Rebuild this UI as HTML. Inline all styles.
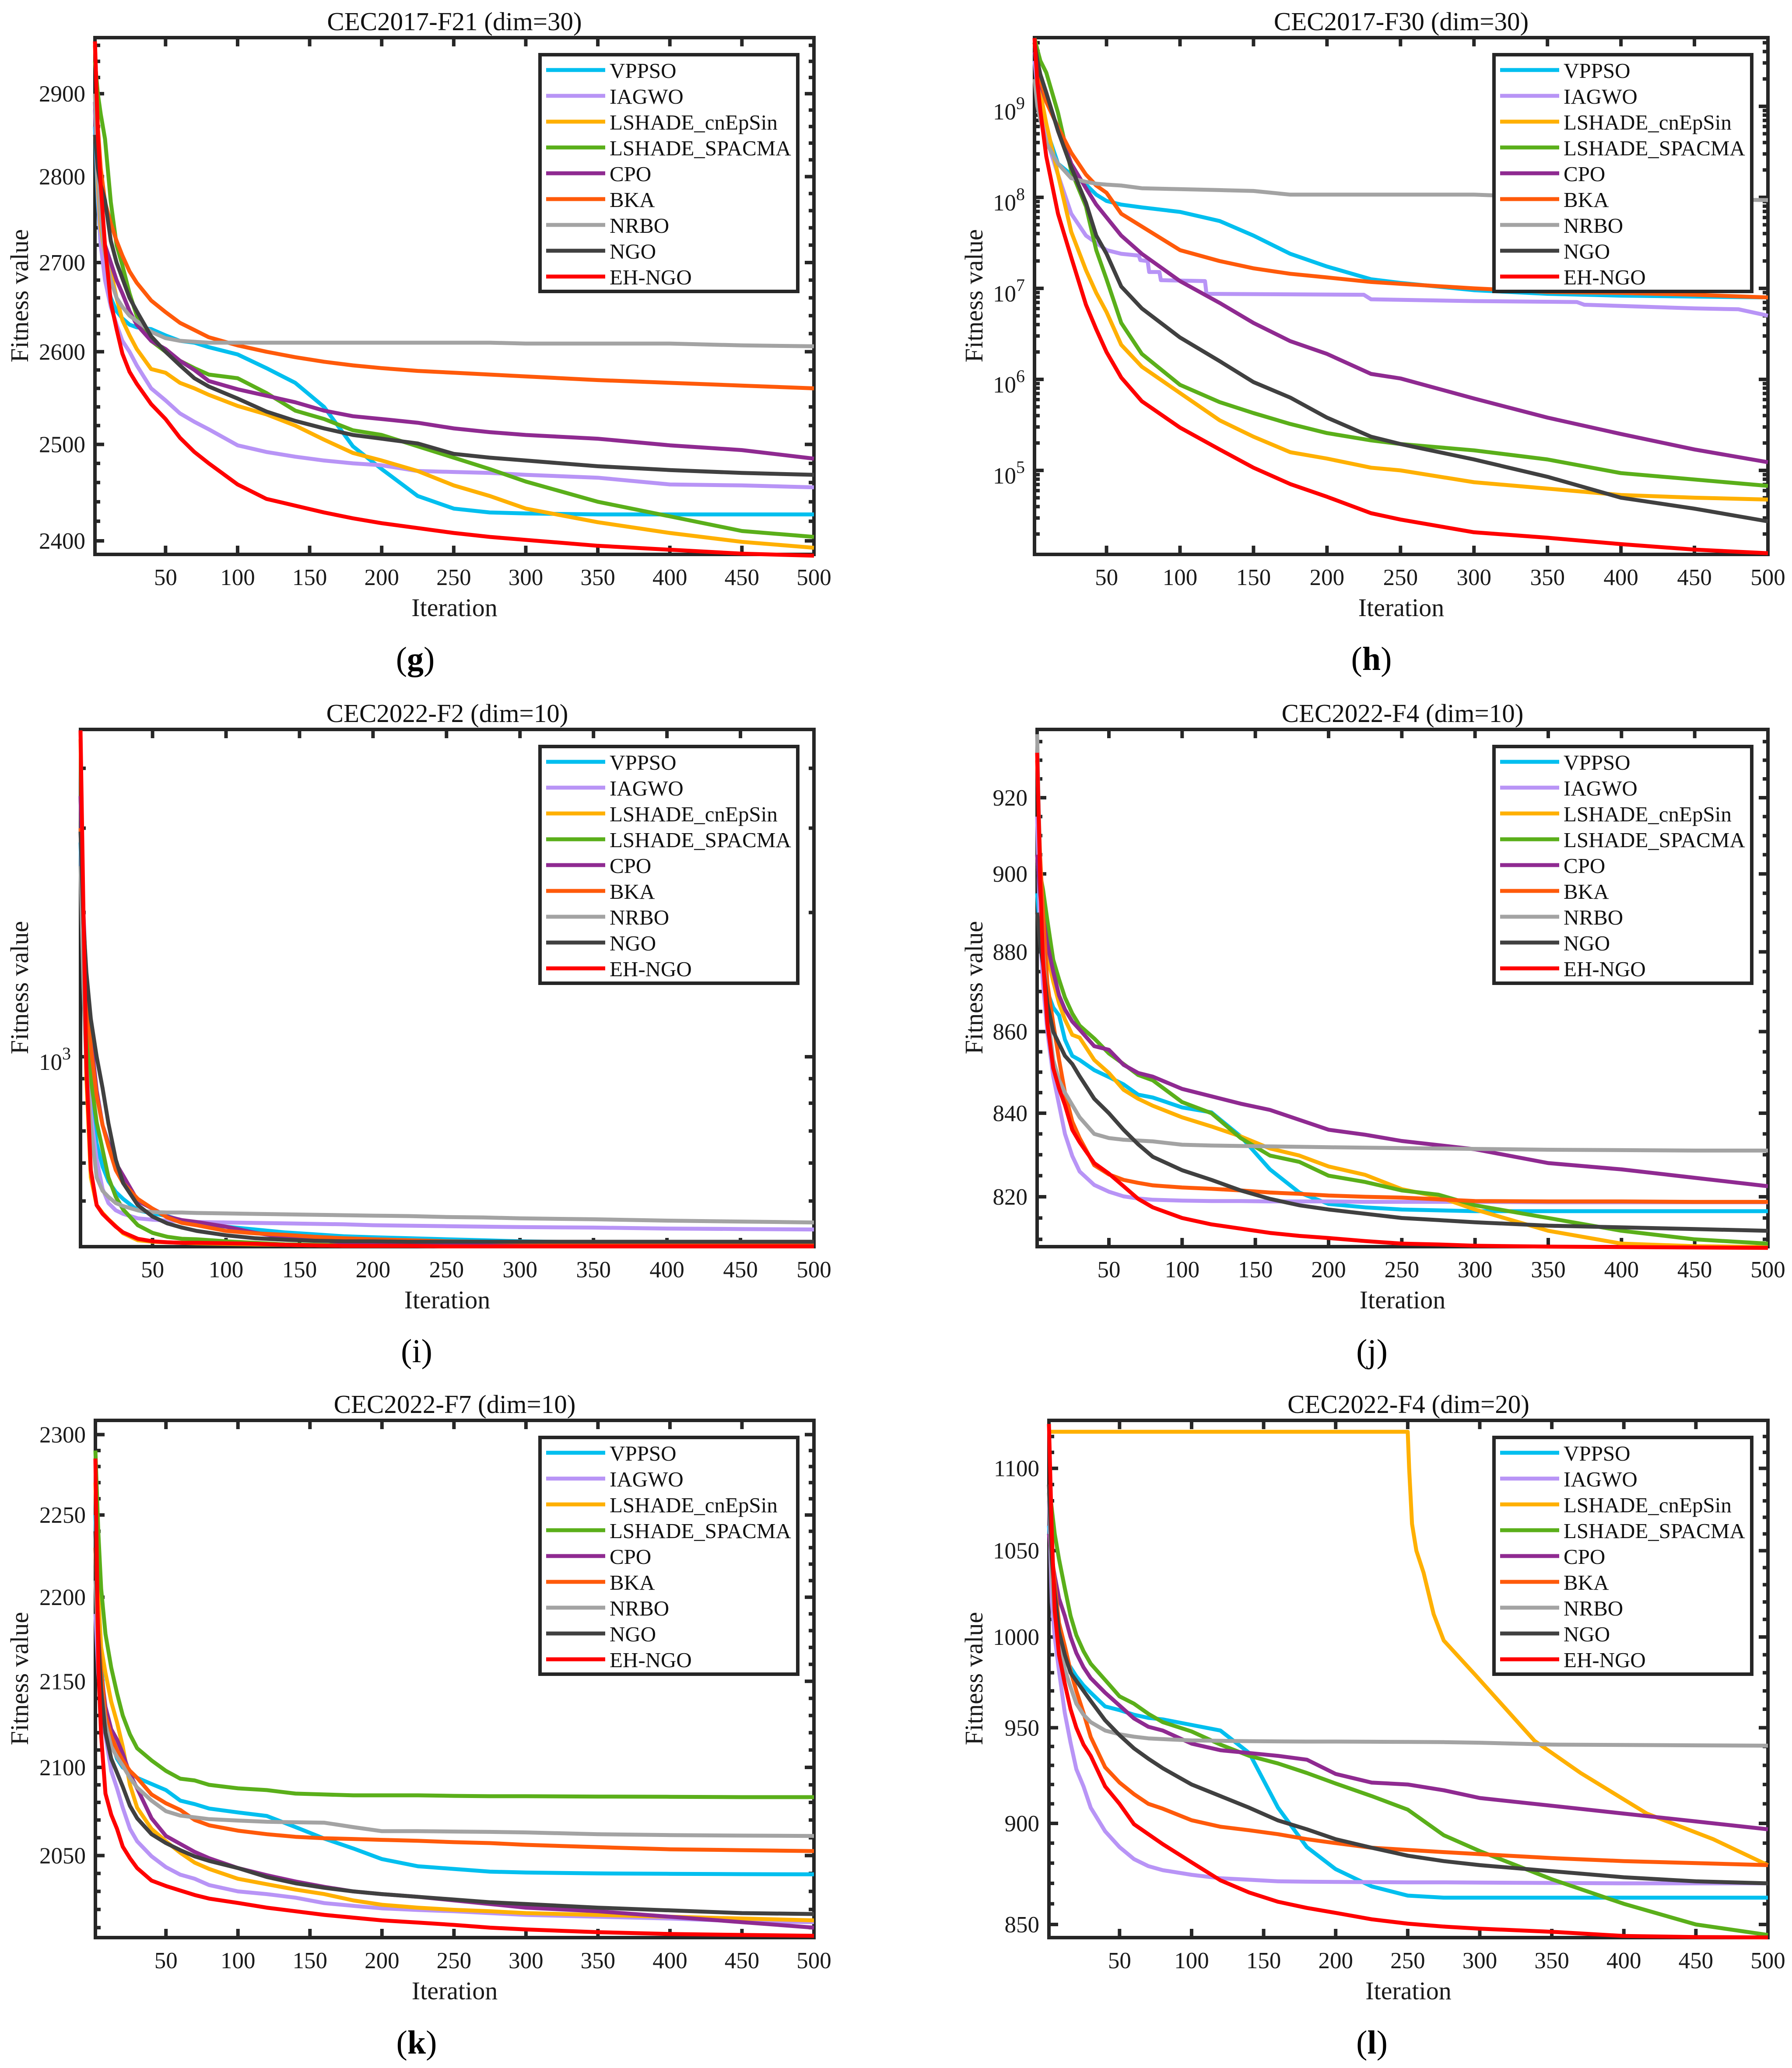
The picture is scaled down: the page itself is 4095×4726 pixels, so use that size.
<!DOCTYPE html>
<html lang="en">
<head>
<meta charset="utf-8">
<title>Convergence curves (g)-(l)</title>
<style>
html,body{margin:0;padding:0;background:#fff;}
svg{display:block;font-family:"Liberation Serif",serif;}
</style>
</head>
<body>
<svg id="figure" xmlns="http://www.w3.org/2000/svg" width="4095" height="4726" viewBox="0 0 4095 4726">
<rect x="0" y="0" width="4095" height="4726" fill="#ffffff"/>
</svg>
<script>
const algorithms = ['VPPSO','IAGWO','LSHADE_cnEpSin','LSHADE_SPACMA','CPO','BKA','NRBO','NGO','EH-NGO'];
const xTickValues = [50,100,150,200,250,300,350,400,450,500];
const iterations = [1,3,5,8,12,16,20,25,30,40,50,60,70,80,100,120,140,160,180,200,225,250,275,300,350,400,450,500];

// (g) CEC2017-F21
const g_yTicks = [2400,2500,2600,2700,2800,2900];
const g_VPPSO = [2860,2770,2720,2685,2660,2645,2637,2630,2627,2625,2618,2612,2610,2605,2597,2582,2566,2540,2498,2474,2446,2433,2429,2428,2427,2427,2427,2427];
const g_IAGWO = [2880,2780,2720,2680,2650,2630,2612,2600,2585,2560,2547,2533,2524,2516,2499,2492,2487,2483,2480,2478,2472,2471,2470,2468,2465,2458,2457,2455];
const g_cnEpSin = [2900,2790,2740,2710,2690,2660,2635,2618,2603,2581,2577,2566,2560,2553,2541,2532,2520,2505,2491,2483,2472,2457,2446,2433,2419,2408,2399,2393];
const g_SPACMA = [2940,2900,2875,2845,2770,2720,2697,2665,2640,2612,2600,2590,2582,2575,2571,2555,2536,2527,2515,2510,2498,2486,2474,2461,2440,2425,2410,2404];
const g_CPO = [2890,2800,2760,2720,2700,2680,2665,2645,2630,2612,2603,2590,2580,2568,2559,2552,2545,2536,2530,2527,2523,2517,2513,2510,2506,2499,2494,2485];
const g_BKA = [2960,2860,2810,2770,2745,2725,2708,2690,2677,2657,2644,2632,2624,2616,2607,2600,2594,2589,2585,2582,2579,2577,2575,2573,2569,2566,2563,2560];
const g_NRBO = [2900,2800,2750,2710,2680,2660,2650,2640,2634,2622,2615,2612,2611,2610,2610,2610,2610,2610,2610,2610,2610,2610,2610,2609,2609,2609,2607,2606];
const g_NGO = [2850,2810,2790,2772,2725,2700,2682,2660,2645,2617,2600,2585,2571,2562,2549,2535,2525,2517,2510,2506,2501,2490,2486,2483,2477,2473,2470,2468];
const g_EHNGO = [2965,2850,2790,2719,2655,2625,2598,2578,2565,2543,2527,2507,2492,2480,2458,2443,2436,2429,2423,2418,2413,2408,2404,2401,2395,2391,2387,2385];

// (h) CEC2017-F30, values stored as log10(fitness)
const h_iterations = [1,3,5,9,17,26,36,43,50,60,74,100,127,150,175,200,230,250,300,350,400,450,500];
const h_iterationsIAGWO = [1,3,5,9,17,26,36,50,60,72,73,78,79,86,87,117,118,225,230,300,370,375,450,480,500];
const h_yExponents = [5,6,7,8,9];
const h_VPPSO = [9.5,9.2,9.05,8.75,8.37,8.25,8.14,8.03,7.96,7.92,7.89,7.84,7.74,7.58,7.38,7.24,7.10,7.06,6.98,6.94,6.92,6.91,6.90];
const h_IAGWO = [9.5,9.2,8.95,8.65,8.25,7.82,7.58,7.42,7.38,7.36,7.31,7.30,7.18,7.18,7.09,7.08,6.94,6.93,6.88,6.86,6.85,6.82,6.78,6.77,6.70];
const h_cnEpSin = [9.7,9.4,9.15,8.81,8.25,7.62,7.2,6.95,6.74,6.38,6.14,5.85,5.55,5.37,5.2,5.13,5.03,5.0,4.87,4.80,4.73,4.70,4.68];
const h_SPACMA = [9.75,9.62,9.5,9.37,8.93,8.29,7.9,7.42,7.10,6.62,6.28,5.94,5.75,5.63,5.51,5.41,5.33,5.29,5.22,5.12,4.97,4.90,4.83];
const h_CPO = [9.6,9.4,9.25,9.05,8.77,8.37,8.10,7.92,7.78,7.58,7.38,7.08,6.84,6.62,6.42,6.28,6.06,6.01,5.79,5.58,5.40,5.23,5.09];
const h_BKA = [9.7,9.45,9.3,9.05,8.77,8.49,8.25,8.13,8.05,7.82,7.68,7.42,7.30,7.22,7.16,7.12,7.07,7.05,7.0,6.96,6.95,6.93,6.90];
const h_NRBO = [9.3,9.0,8.85,8.6,8.37,8.21,8.17,8.15,8.14,8.13,8.10,8.09,8.08,8.07,8.03,8.03,8.03,8.03,8.03,8.0,7.99,7.98,7.97];
const h_NGO = [9.7,9.5,9.35,9.15,8.73,8.33,7.94,7.58,7.38,7.02,6.78,6.46,6.2,5.97,5.8,5.58,5.37,5.29,5.12,4.93,4.70,4.58,4.44];
const h_EHNGO = [9.75,9.25,8.95,8.45,7.82,7.34,6.82,6.55,6.30,6.02,5.76,5.47,5.23,5.03,4.85,4.71,4.53,4.46,4.32,4.26,4.19,4.13,4.09];

// (i) CEC2022-F2 dim 10
const i_yMinorTicks = [500,600,700,800,900,2000,3000,4000];
const i_VPPSO = [2800,1500,1050,800,660,590,550,522,505,478,471,465,455,449,442,436,430,426,422,420,418,416,414,412,410,408,407,406];
const i_IAGWO = [3000,1500,1000,760,610,530,495,478,470,460,457,455,454,452,451,450,449,448,447,445,444,443,442,441,440,438,437,436];
const i_cnEpSin = [4600,1800,900,560,490,472,458,443,428,414,411,410,409,408,407,406,405,404,403,403,403,402,402,402,402,402,402,402];
const i_SPACMA = [3500,1900,1300,900,730,640,560,510,480,445,429,421,417,416,412,409,406,405,404,403,403,403,402,402,402,402,402,402];
const i_CPO = [3500,2000,1400,1100,850,720,660,600,565,500,482,464,456,452,442,429,420,415,410,408,407,406,405,405,404,404,403,403];
const i_BKA = [3000,1900,1400,1050,830,720,650,580,545,505,482,462,450,445,433,428,425,421,418,416,414,412,411,410,409,409,408,408];
const i_NRBO = [2500,1400,950,720,560,525,510,495,488,478,474,473,473,472,471,470,469,468,467,466,465,463,462,460,458,455,453,451];
const i_NGO = [2950,1900,1500,1200,1000,860,726,610,545,490,464,449,440,433,424,418,415,413,412,412,411,411,411,411,411,411,411,411];
const i_EHNGO = [4800,2000,950,580,490,470,457,442,430,417,412,410,409,409,408,407,405,404,403,403,403,402,402,402,402,402,402,402];

// (j) CEC2022-F4 dim 10
const j_yTicks = [820,840,860,880,900,920];
const j_VPPSO = [895,885,878,870,866,864,858,854,853,850.5,848.8,847,844.5,843.8,841.4,840.2,834.4,826.5,821,818.3,817.5,817,816.8,816.6,816.6,816.6,816.6,816.6];
const j_IAGWO = [915,885,872,860,849,842,835,829.7,826,822.8,821.2,820.1,819.6,819.3,819.1,819,819,818.9,818.9,818.9,818.8,818.8,818.8,818.8,818.7,818.7,818.7,818.7];
const j_cnEpSin = [905,895,888,879,872.5,867,863,859.2,858.5,853,849.8,845.7,843.5,841.8,839,836.8,834.4,831.5,829.8,827.2,825.2,821.8,820,817,812,809,808.4,808.2];
const j_SPACMA = [905,900,896,888,878,873,868.5,864.5,861.5,858.3,854.6,852,849.3,848,842.7,840,834,829.8,828.3,825,823.5,821.5,820.5,818,815,812,810,809];
const j_CPO = [905,895,889,882,875,869,865.5,862.5,860.5,856.4,855.5,851.8,849.8,848.9,845.9,844.1,842.3,840.8,838.4,836,834.8,833.3,832.3,831.3,828,826.5,824.5,822.5];
const j_BKA = [930,905,890,872,862,853,845,838,834,827.5,825.3,824,823.3,822.7,822.2,821.9,821.5,821,820.7,820.3,820,819.8,819.4,819,818.9,818.9,818.8,818.8];
const j_NRBO = [937,900,880,865,853,848,845,842,839,835,834,833.6,833.4,833.2,832.4,832.2,832.1,832,831.9,831.8,831.7,831.6,831.5,831.4,831.2,831.1,831,831];
const j_NGO = [890,882,877,867,860,857,854,852,849,843.5,840,836,832.5,829.5,826.3,824,821.5,819.5,818,817,816,815,814.5,814,813.2,812.8,812.4,812];
const j_EHNGO = [932,900,878,862,851,846,842,836,833,828,825.5,822.5,819.5,817.5,815,813.5,812.5,811.5,810.8,810.3,809.6,809,808.8,808.5,808.3,808.2,808.1,808];

// (k) CEC2022-F7 dim 10
const k_yTicks = [2050,2100,2150,2200,2250,2300];
const k_VPPSO = [2250,2190,2160,2130,2115,2105,2100,2097,2094,2090.5,2087,2081,2079,2076.5,2074.3,2072.3,2066,2059.5,2054,2048,2044,2042.5,2041,2040.5,2040,2039.8,2039.6,2039.5];
const k_IAGWO = [2190,2155,2135,2118,2098,2088,2077,2065,2058,2049.6,2043.5,2039.3,2037,2033.5,2030,2028.5,2026.5,2023.5,2022,2020.6,2019.7,2019,2018,2017,2016,2015,2013.5,2013];
const k_cnEpSin = [2270,2200,2170,2155,2138,2126,2112,2090,2077,2065,2058,2051.5,2046,2042.5,2037,2034,2031,2028.5,2025,2022.6,2021,2019.8,2019,2018,2017,2016,2015,2014];
const k_SPACMA = [2290,2240,2205,2178,2158,2143,2130,2119,2111,2104,2098,2093.5,2092.5,2090,2088,2087,2085,2084.5,2084,2084,2084,2083.7,2083.5,2083.5,2083.3,2083.2,2083,2083];
const k_CPO = [2230,2180,2155,2135,2122,2116,2108,2096,2088,2071,2061,2056.5,2052,2048.5,2043,2039,2035.5,2032.5,2030,2028.5,2027,2025,2023,2021,2019,2016,2013,2010];
const k_BKA = [2230,2180,2155,2130,2118,2110,2104,2098,2094,2084.5,2079.5,2075.7,2070,2067,2064,2062,2060.5,2059.7,2059.3,2058.8,2058.3,2057.5,2057,2056,2054.7,2053.5,2053,2052.5];
const k_NRBO = [2210,2170,2145,2125,2112,2106,2101,2094,2088.5,2081,2075,2072.5,2071.5,2070.5,2069.7,2069,2068.7,2068.5,2066,2063.7,2063.7,2063.5,2063.3,2063,2062,2061.5,2061.2,2061];
const k_NGO = [2240,2175,2145,2120,2105,2097,2089,2078,2071,2062,2057,2053,2049.5,2047,2043,2038,2034.5,2032,2030,2028.5,2027,2025.5,2024,2023,2021,2019.5,2018,2017.5];
const k_EHNGO = [2285,2160,2118,2085,2073,2065,2055,2048.5,2043,2036,2033,2030.5,2028,2026,2023.6,2021,2019,2017,2015.5,2014,2012.8,2011.5,2010,2009,2007.5,2006.5,2006,2005.5];

// (l) CEC2022-F4 dim 20
const l_yTicks = [850,900,950,1000,1050,1100];
const l_iterationsCnEpSin = [1,250,251,253,256,261,268,275,297,338,370,416,462,500];
const l_VPPSO = [1065,1040,1020,1000,988,983,978,973,969,961.5,959.5,957,955.3,954.5,951.5,948.5,936.5,908,888,877,868.5,864,863,863,863,863,863,863];
const l_IAGWO = [1080,1020,1000,981,958,942,928,919,908,896,888,882,878.5,876.5,874.2,872.5,871.8,871,870.8,870.7,870.6,870.5,870.5,870.4,870.2,870,870,870];
const l_cnEpSin = [1123,1123,1100,1066,1050,1037,1013,998,978.7,943,926,905,892,879];
const l_SPACMA = [1090,1075,1060,1045,1028,1012,1001,992,985,976,967,963,957.5,953,948,941,935,931,926,920.5,914,907,894,886,872,860,850,845];
const l_CPO = [1060,1045,1035,1022,1012,1000,991,983,977,969,962,955,950.5,948.5,941.5,938,936.5,935,933,925.5,921,920,917,913,909,905,901,897];
const l_BKA = [1085,1050,1030,1008,995,981,970,958,945,929,921,915,910,907.5,901.6,898.3,896.5,894.5,892,890,887.7,886.6,885.5,884.5,882.5,881,880,879];
const l_NRBO = [1085,1035,1012,1000,982,972,963,957,953,948.5,946.5,945.2,944.3,943.9,943.2,943,942.8,942.7,942.6,942.6,942.5,942.4,942.3,942,941,940.8,940.6,940.4];
const l_NGO = [1090,1045,1025,1003,990,980,975.5,970,964.5,954,946,939,933.5,928.5,920,914,908,901.5,897,892,887.7,883.7,881,879,876,873,871,870];
const l_EHNGO = [1128,1060,1015,990,974,960,950,941,935,919,910,899.6,894.5,889.5,880.4,871.5,865.5,861,858,855.6,852.5,850.4,849,848,846.5,844.5,844,843.8];

const SVGNS = 'http://www.w3.org/2000/svg';
const figure = document.getElementById('figure');
const AXIS = '#262626';
const lineColors = ['#00BFEF','#B894F6','#FFB000','#5AAF1A','#8F2A91','#FF5A0A','#A3A3A3','#404040','#FF0000'];

function mk(tag, attrs, parent) {
  const el = document.createElementNS(SVGNS, tag);
  for (const k in attrs) el.setAttribute(k, attrs[k]);
  parent.appendChild(el);
  return el;
}
function slug(s) { return s.toLowerCase().replace(/[^a-z0-9]+/g, '-'); }

function drawPanel(cfg) {
  const L = cfg.left, R = cfg.right, T = cfg.top, B = cfg.bottom;
  const xOf = function (i) { return L + (i - 1) * (R - L) / 499; };
  const yOf = function (v) { return cfg.refY + cfg.decade * Math.log10(cfg.refValue / v); };

  const group = mk('g', {}, figure);
  
  

  const title = mk('text', {x: (L + R) / 2, y: T - 17, 'text-anchor': 'middle', 'font-size': 59, fill: '#111'}, group);
  title.textContent = cfg.title;
  
  

  const frame = mk('rect', {x: L, y: T, width: R - L, height: B - T, fill: '#fff', stroke: AXIS, 'stroke-width': 8}, group);
  
  

  xTickValues.forEach(function (t) {
    const x = xOf(t);
    const bottomTick = mk('line', {x1: x, x2: x, y1: B, y2: B - 20, stroke: AXIS, 'stroke-width': 8}, group);
    
    
    const topTick = mk('line', {x1: x, x2: x, y1: T, y2: T + 20, stroke: AXIS, 'stroke-width': 8}, group);
    
    
    const label = mk('text', {x: x, y: B + 70, 'text-anchor': 'middle', 'font-size': 53, fill: '#1a1a1a'}, group);
    label.textContent = String(t);
    
    
  });

  function yTick(v, len, name) {
    const y = yOf(v);
    const leftTick = mk('line', {x1: L, x2: L + len, y1: y, y2: y, stroke: AXIS, 'stroke-width': 8}, group);
    
    
    const rightTick = mk('line', {x1: R, x2: R - len, y1: y, y2: y, stroke: AXIS, 'stroke-width': 8}, group);
    
    
  }
  cfg.minorTicks.forEach(function (v) { yTick(v, 12, 'y-minor-tick'); });
  cfg.majorTicks.forEach(function (v) {
    yTick(v, 21, 'y-tick-' + v);
    const y = yOf(v);
    const label = mk('text', {x: L - 22, 'text-anchor': 'end', 'font-size': 53, fill: '#1a1a1a'}, group);
    
    
    if (cfg.powerLabels) {
      label.setAttribute('y', y + 30);
      const base = mk('tspan', {}, label);
      base.textContent = '10';
      const sup = mk('tspan', {dy: -24, 'font-size': 40}, label);
      sup.textContent = String(Math.round(Math.log10(v)));
    } else {
      label.setAttribute('y', y + 18);
      label.textContent = String(v);
    }
  });

  const xTitle = mk('text', {x: (L + R) / 2, y: B + 141, 'text-anchor': 'middle', 'font-size': 58, fill: '#1a1a1a'}, group);
  xTitle.textContent = 'Iteration';
  
  

  const yTitleX = cfg.yTitleX, yTitleY = T + 590;
  const yTitle = mk('text', {x: yTitleX, y: yTitleY, 'text-anchor': 'middle', 'font-size': 58, fill: '#1a1a1a', transform: 'rotate(-90 ' + yTitleX + ' ' + yTitleY + ')'}, group);
  yTitle.textContent = 'Fitness value';
  
  

  cfg.series.forEach(function (s, idx) {
    const d = s.values.map(function (v, k) {
      return (k ? 'L' : 'M') + xOf(s.iters[k]).toFixed(1) + ' ' + yOf(v).toFixed(1);
    }).join(' ');
    const path = mk('path', {d: d, fill: 'none', stroke: lineColors[idx], 'stroke-width': 9, 'stroke-linejoin': 'round', 'stroke-linecap': 'butt'}, group);
    
    
  });

  const legendLeft = R - 630, legendTop = T + 35;
  const legend = mk('g', {}, group);
  
  
  const box = mk('rect', {x: legendLeft + 4, y: legendTop + 4, width: 589, height: 541, fill: '#fff', stroke: AXIS, 'stroke-width': 8}, legend);
  
  
  algorithms.forEach(function (name, idx) {
    const rowY = legendTop + 39 + idx * 59;
    const sample = mk('line', {x1: legendLeft + 18, x2: legendLeft + 153, y1: rowY, y2: rowY, stroke: lineColors[idx], 'stroke-width': 9}, legend);
    
    
    const text = mk('text', {x: legendLeft + 163, y: rowY + 18, 'font-size': 49, fill: '#111'}, legend);
    text.textContent = name;
    
    
  });

  const caption = mk('text', {x: cfg.captionX, y: cfg.captionY, 'text-anchor': 'middle', 'font-size': 76, fill: '#000'}, figure);
  caption.textContent = '(';
  const letter = mk('tspan', {'font-weight': cfg.captionBold ? 'bold' : 'normal'}, caption);
  letter.textContent = cfg.id;
  const close = mk('tspan', {}, caption);
  close.textContent = ')';
  
  
}

function steps(lo, hi, step, majors) {
  const out = [];
  for (let v = Math.ceil(lo / step) * step; v <= hi; v += step) {
    if (majors.indexOf(v) < 0) out.push(v);
  }
  return out;
}
function decadeMinors(loExp, hiExp, lim) {
  const out = [];
  for (let e = loExp; e <= hiExp; e++) {
    for (let m = 2; m <= 9; m++) {
      const v = m * Math.pow(10, e);
      if (v >= lim[0] && v <= lim[1]) out.push(v);
    }
  }
  return out;
}
function pow10(arr) { return arr.map(function (e) { return Math.pow(10, e); }); }
function uniform(list) {
  return list.map(function (values) { return {iters: iterations, values: values}; });
}

drawPanel({
  id: 'g', title: 'CEC2017-F21 (dim=30)', captionBold: true, captionX: 949, captionY: 1531,
  left: 217, right: 1860, top: 86, bottom: 1267, yTitleX: 64,
  refValue: 2400, refY: 1236, decade: 12433,
  majorTicks: g_yTicks, minorTicks: steps(2390, 2965, 20, g_yTicks),
  series: uniform([g_VPPSO, g_IAGWO, g_cnEpSin, g_SPACMA, g_CPO, g_BKA, g_NRBO, g_NGO, g_EHNGO])
});
drawPanel({
  id: 'h', title: 'CEC2017-F30 (dim=30)', captionBold: true, captionX: 3134, captionY: 1531,
  left: 2364, right: 4040, top: 86, bottom: 1267, yTitleX: 2245,
  refValue: 1e5, refY: 1075, decade: 208, powerLabels: true,
  majorTicks: pow10(h_yExponents), minorTicks: decadeMinors(4, 9, [1.3e4, 5.6e9]),
  series: [
    {iters: h_iterations, values: pow10(h_VPPSO)},
    {iters: h_iterationsIAGWO, values: pow10(h_IAGWO)},
    {iters: h_iterations, values: pow10(h_cnEpSin)},
    {iters: h_iterations, values: pow10(h_SPACMA)},
    {iters: h_iterations, values: pow10(h_CPO)},
    {iters: h_iterations, values: pow10(h_BKA)},
    {iters: h_iterations, values: pow10(h_NRBO)},
    {iters: h_iterations, values: pow10(h_NGO)},
    {iters: h_iterations, values: pow10(h_EHNGO)}
  ]
});
drawPanel({
  id: 'i', title: 'CEC2022-F2 (dim=10)', captionBold: false, captionX: 952, captionY: 3113,
  left: 184, right: 1860, top: 1667, bottom: 2849, yTitleX: 64,
  refValue: 1000, refY: 2415, decade: 1095, powerLabels: true,
  majorTicks: [1000], minorTicks: i_yMinorTicks,
  series: uniform([i_VPPSO, i_IAGWO, i_cnEpSin, i_SPACMA, i_CPO, i_BKA, i_NRBO, i_NGO, i_EHNGO])
});
drawPanel({
  id: 'j', title: 'CEC2022-F4 (dim=10)', captionBold: false, captionX: 3135, captionY: 3113,
  left: 2370, right: 4040, top: 1667, bottom: 2849, yTitleX: 2245,
  refValue: 820, refY: 2735, decade: 18250,
  majorTicks: j_yTicks, minorTicks: steps(809, 935, 5, j_yTicks),
  series: uniform([j_VPPSO, j_IAGWO, j_cnEpSin, j_SPACMA, j_CPO, j_BKA, j_NRBO, j_NGO, j_EHNGO])
});
drawPanel({
  id: 'k', title: 'CEC2022-F7 (dim=10)', captionBold: true, captionX: 952, captionY: 4693,
  left: 218, right: 1860, top: 3246, bottom: 4428, yTitleX: 64,
  refValue: 2100, refY: 4039, decade: 19250,
  majorTicks: k_yTicks, minorTicks: steps(2006, 2305, 10, k_yTicks),
  series: uniform([k_VPPSO, k_IAGWO, k_cnEpSin, k_SPACMA, k_CPO, k_BKA, k_NRBO, k_NGO, k_EHNGO])
});
drawPanel({
  id: 'l', title: 'CEC2022-F4 (dim=20)', captionBold: true, captionX: 3135, captionY: 4693,
  left: 2397, right: 4040, top: 3246, bottom: 4428, yTitleX: 2245,
  refValue: 1000, refY: 3741, decade: 9309,
  majorTicks: l_yTicks, minorTicks: steps(845, 1128, 10, l_yTicks),
  series: [
    {iters: iterations, values: l_VPPSO},
    {iters: iterations, values: l_IAGWO},
    {iters: l_iterationsCnEpSin, values: l_cnEpSin},
    {iters: iterations, values: l_SPACMA},
    {iters: iterations, values: l_CPO},
    {iters: iterations, values: l_BKA},
    {iters: iterations, values: l_NRBO},
    {iters: iterations, values: l_NGO},
    {iters: iterations, values: l_EHNGO}
  ]
});
</script>
</body>
</html>
